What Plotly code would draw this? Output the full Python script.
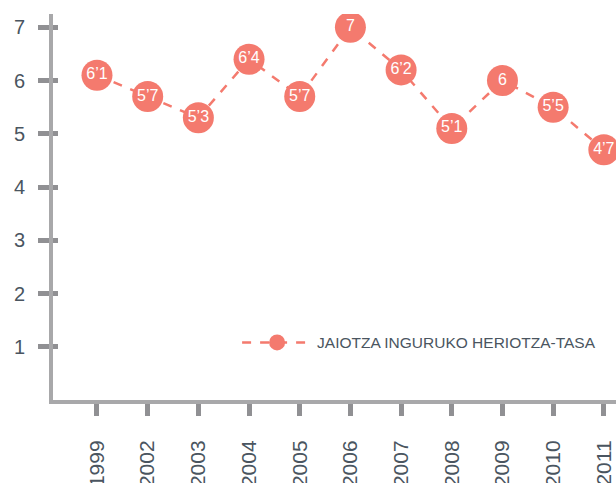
import plotly.graph_objects as go

years = ["1999", "2002", "2003", "2004", "2005", "2006", "2007", "2008", "2009", "2010", "2011"]
values = [6.1, 5.7, 5.3, 6.4, 5.7, 7, 6.2, 5.1, 6, 5.5, 4.7]
labels = ["6’1", "5’7", "5’3", "6’4", "5’7", "7", "6’2", "5’1", "6", "5’5", "4’7"]
series_name = "JAIOTZA INGURUKO HERIOTZA-TASA"
ytick_vals = [1, 2, 3, 4, 5, 6, 7]

salmon = "#f47a6e"
axis_col = "#a8a8aa"
tick_col = "#909093"
text_col = "#4a5560"
font = "Liberation Sans, Arial, sans-serif"

fig = go.Figure()
fig.add_trace(go.Scatter(
    x=years, y=values, mode="lines+markers", name=series_name,
    line=dict(color=salmon, width=2.5, dash="dash"),
    marker=dict(color=salmon, size=31),
    showlegend=True,
))
fig.add_trace(go.Scatter(
    x=years, y=values, mode="text", text=labels,
    textposition="middle center",
    textfont=dict(color="white", size=16, family=font),
    showlegend=False, hoverinfo="skip",
))
# inner halves of y tick marks
fig.add_trace(go.Scatter(x=[years[0]], y=[None], yaxis="y2", showlegend=False, hoverinfo="skip"))

fig.update_layout(
    width=616, height=483,
    margin=dict(l=53, r=0, t=14, b=83),
    paper_bgcolor="white", plot_bgcolor="white",
    font=dict(family=font, color=text_col),
    xaxis=dict(
        type="category", range=[-0.868, 10.24], automargin=False,
        showline=True, linecolor=axis_col, linewidth=4,
        ticks="outside", ticklen=12, tickwidth=5, tickcolor=tick_col,
        tickangle=-90, tickfont=dict(size=21, color=text_col),
        ticklabelstandoff=16,
        showgrid=False, zeroline=False,
    ),
    yaxis=dict(
        range=[0, 7.25], tickvals=ytick_vals, automargin=False,
        showline=True, linecolor=axis_col, linewidth=4,
        ticks="outside", ticklen=11, tickwidth=5, tickcolor=tick_col,
        tickfont=dict(size=20, color=text_col),
        showgrid=False, zeroline=False, ticklabelstandoff=9,
    ),
    yaxis2=dict(
        overlaying="y", range=[0, 7.25], tickvals=ytick_vals, automargin=False,
        ticks="inside", ticklen=5, tickwidth=5, tickcolor=tick_col,
        showticklabels=False, showgrid=False, zeroline=False, showline=False,
        side="left",
    ),
    legend=dict(
        x=0.327, y=0.148, xanchor="left", yanchor="middle",
        itemwidth=70,
        font=dict(size=15.5, color=text_col, family=font),
        bgcolor="rgba(0,0,0,0)",
    ),
    showlegend=True,
)

fig.write_html(
    "out.html",
    config={"displayModeBar": False},
    post_script="document.body.style.margin='0';document.body.style.overflow='hidden';",
)
